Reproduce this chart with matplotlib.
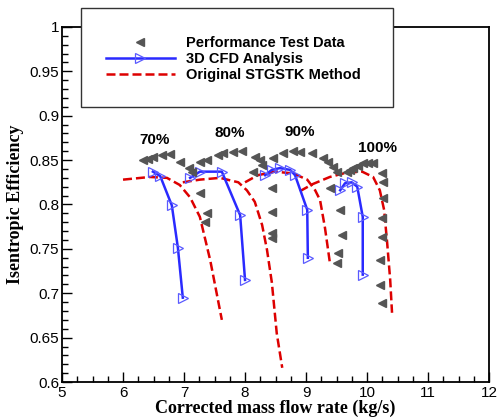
import matplotlib
matplotlib.use('Agg')
import matplotlib.pyplot as plt
from matplotlib.patches import Rectangle
from matplotlib.ticker import MultipleLocator

plt.rcParams['font.family'] = ['Liberation Sans', 'DejaVu Sans']

# Performance test data (speed lines 70/80/90/100 %)
test_x = [6.33, 6.41, 6.49, 6.64, 6.77, 6.93, 7.08, 7.13, 7.26, 7.38, 7.34,
          7.26, 7.38, 7.56, 7.64, 7.80, 7.95, 8.16, 8.25, 8.28, 8.13, 8.44, 8.44, 8.44, 8.44,
          8.46, 8.62, 8.79, 8.90, 9.10, 9.28, 9.36, 9.44, 9.51, 9.39, 9.56, 9.59, 9.52, 9.51,
          9.67, 9.72, 9.77, 9.85, 9.93, 10.02, 10.10, 10.25, 10.26, 10.26, 10.25, 10.25,
          10.21, 10.21, 10.25]
test_y = [0.850, 0.851, 0.854, 0.856, 0.857, 0.848, 0.841, 0.837, 0.813, 0.790, 0.780,
          0.848, 0.850, 0.856, 0.858, 0.859, 0.860, 0.854, 0.850, 0.845, 0.837, 0.819, 0.792, 0.768, 0.762,
          0.852, 0.858, 0.860, 0.859, 0.858, 0.852, 0.848, 0.842, 0.837, 0.819, 0.794, 0.766, 0.745, 0.734,
          0.837, 0.839, 0.841, 0.843, 0.847, 0.847, 0.847, 0.835, 0.825, 0.807, 0.785, 0.763,
          0.737, 0.709, 0.689]

# 3D CFD analysis
cfd70_x = [6.49, 6.61, 6.80, 6.90, 6.98]
cfd70_y = [0.837, 0.832, 0.799, 0.751, 0.695]
cfd80_x = [7.10, 7.26, 7.62, 7.92, 8.00]
cfd80_y = [0.830, 0.837, 0.837, 0.788, 0.715]
cfd90_x = [8.33, 8.44, 8.57, 8.74, 8.82, 9.02, 9.03]
cfd90_y = [0.833, 0.839, 0.841, 0.839, 0.833, 0.794, 0.740]
cfd100_x = [9.56, 9.64, 9.75, 9.84, 9.93, 9.93]
cfd100_y = [0.816, 0.824, 0.825, 0.820, 0.786, 0.721]

# Original STGSTK method
stg70_x = [6.00, 6.44, 6.72, 6.93, 7.10, 7.26, 7.43, 7.62]
stg70_y = [0.828, 0.831, 0.830, 0.822, 0.808, 0.786, 0.737, 0.670]
stg80_x = [6.98, 7.26, 7.59, 7.89, 8.03, 8.16, 8.28, 8.36, 8.44, 8.52, 8.61]
stg80_y = [0.825, 0.828, 0.830, 0.825, 0.816, 0.803, 0.777, 0.749, 0.712, 0.655, 0.616]
stg90_x = [8.00, 8.21, 8.49, 8.79, 9.02, 9.15, 9.23, 9.31, 9.39]
stg90_y = [0.825, 0.833, 0.837, 0.835, 0.828, 0.816, 0.805, 0.774, 0.735]
stg100_x = [8.90, 9.11, 9.39, 9.67, 9.92, 10.10, 10.21, 10.28, 10.33, 10.38, 10.41]
stg100_y = [0.815, 0.823, 0.831, 0.836, 0.837, 0.831, 0.816, 0.794, 0.757, 0.715, 0.678]

speed_labels = ['70%', '80%', '90%', '100%']
speed_label_x = [6.52, 7.75, 8.90, 10.18]
speed_label_y = [0.873, 0.881, 0.882, 0.864]

fig = plt.figure(figsize=(5.03, 4.19), dpi=100)
ax = fig.add_axes([0.1233, 0.0883, 0.8489, 0.8473])

red = '#dd0000'
blue = '#2a2aff'

for sx, sy in [(stg70_x, stg70_y), (stg80_x, stg80_y), (stg90_x, stg90_y), (stg100_x, stg100_y)]:
    ax.plot(sx, sy, color=red, lw=1.8, dashes=(3.6, 1.6))

for cx, cy in [(cfd70_x, cfd70_y), (cfd80_x, cfd80_y), (cfd90_x, cfd90_y), (cfd100_x, cfd100_y)]:
    ax.plot(cx, cy, color=blue, lw=1.8, marker='>', ms=7, mfc='none',
            mec='#5a5aff', mew=0.9)

ax.plot(test_x, test_y, ls='none', marker='<', ms=5.5, color='#555555', mec='#555555')

for lab, lx, ly in zip(speed_labels, speed_label_x, speed_label_y):
    ax.text(lx, ly, lab, fontsize=11, fontweight='bold', ha='center', va='center')

ax.set_xlim(5, 12)
ax.set_ylim(0.6, 1.0)
ax.xaxis.set_major_locator(MultipleLocator(1))
ax.xaxis.set_minor_locator(MultipleLocator(0.25))
ax.yaxis.set_minor_locator(MultipleLocator(0.01))
ax.set_yticks([0.6, 0.65, 0.7, 0.75, 0.8, 0.85, 0.9, 0.95, 1.0])
ax.set_yticklabels(['0.6', '0.65', '0.7', '0.75', '0.8', '0.85', '0.9', '0.95', '1'])
ax.tick_params(which='both', direction='in', top=False, right=False, labelsize=11)
ax.tick_params(axis='x', pad=3)
ax.tick_params(axis='y', pad=2)
ax.tick_params(which='major', length=7, width=1)
ax.tick_params(which='minor', length=4, width=1)
for sp in ax.spines.values():
    sp.set_linewidth(1.3)

ax.set_xlabel('Corrected mass flow rate (kg/s)', family='Liberation Serif',
              fontweight='bold', fontsize=13, labelpad=0)
ax.set_ylabel('Isentropic Efficiency', family='Liberation Serif',
              fontweight='bold', fontsize=13, labelpad=4)

# legend box sits over the top of the frame
box = Rectangle((81 / 503, 1 - 107 / 419), 312 / 503, 99 / 419, transform=fig.transFigure,
                facecolor='white', edgecolor='#333333', lw=1, zorder=5)
fig.patches.append(box)

h1, = ax.plot([], [], ls='none', marker='<', ms=5.5, color='#555555')
h2, = ax.plot([], [], color=blue, lw=1.8, marker='>', ms=7, mfc='none', mec='#5a5aff', mew=0.9)
h3, = ax.plot([], [], color=red, lw=1.8, dashes=(3.6, 1.6))
leg = fig.legend([h1, h2, h3],
                 ['Performance Test Data', '3D CFD Analysis', 'Original STGSTK Method'],
                 loc='upper left', bbox_to_anchor=(106 / 503, 1 - 36 / 419),
                 frameon=False, numpoints=1, handlelength=4.7, handletextpad=0.8,
                 labelspacing=0.15, borderpad=0, borderaxespad=0,
                 prop={'weight': 'bold', 'size': 10.5})
leg.set_zorder(6)

fig.savefig('out.png', dpi=100)
